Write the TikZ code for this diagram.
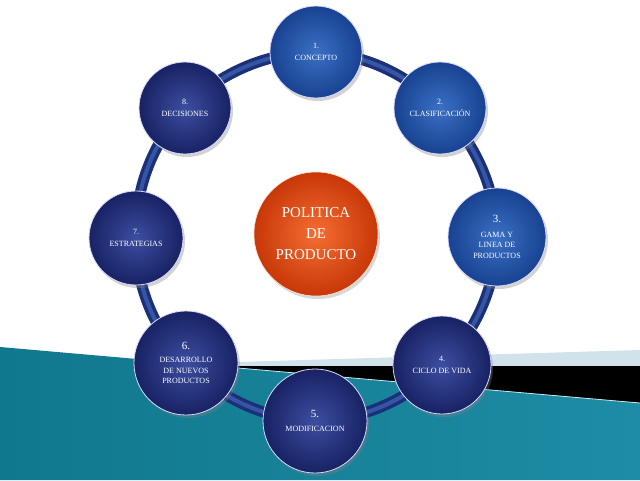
\documentclass[tikz,border=0pt]{standalone}
\usepackage{fontspec}
\setmainfont{Liberation Serif}
\usetikzlibrary{shadows}
\pgfdeclarelayer{bg}
\pgfdeclarelayer{ring}
\pgfsetlayers{bg,ring,main}
\definecolor{royalin}{RGB}{58,112,196}
\definecolor{royalout}{RGB}{24,66,145}
\definecolor{navyin}{RGB}{60,78,160}
\definecolor{navyout}{RGB}{24,34,100}
\definecolor{orangein}{RGB}{245,110,50}
\definecolor{orangeout}{RGB}{200,55,8}
\definecolor{ringdark}{RGB}{28,48,120}
\definecolor{ringlight}{RGB}{52,86,165}
\definecolor{tealdark}{RGB}{16,120,142}
\definecolor{tealmid}{RGB}{60,172,200}
\definecolor{tealright}{RGB}{30,140,165}
\definecolor{paleband}{RGB}{210,226,234}
\begin{document}
\begin{tikzpicture}[x=1pt,y=-1pt,
  bubble/.style={circle, minimum size=#1, inner sep=0pt, draw=white!70!blue!50, line width=0.8pt,
    text=white, align=center, font=\fontsize{8}{10.5}\selectfont,
    drop shadow={shadow xshift=2pt, shadow yshift=-3pt, opacity=0.35}},
  royal/.style={inner color=royalin, outer color=royalout},
  navy/.style={inner color=navyin, outer color=navyout},
  ringarc/.style={line width=11pt, draw=ringdark},
  ringhi/.style={line width=4pt, draw=ringlight},
  hub/.style={circle, minimum size=124pt, inner sep=0pt, inner color=orangein, outer color=orangeout,
    draw=white!80!orange, line width=0.6pt, text=white, align=center,
    font=\fontsize{15}{21}\selectfont,
    drop shadow={shadow xshift=2pt, shadow yshift=-3pt, opacity=0.3}}]
\useasboundingbox (0,0) rectangle (640,480);
\begin{pgfonlayer}{bg}
  \fill[white] (0,0) rectangle (640,480);
  \fill[paleband] (170,364) -- (640,350) -- (640,366) -- (215,366) -- cycle;
  \fill[black] (210,366) -- (640,366) -- (640,403) -- cycle;
  \shade[left color=tealdark, middle color=tealmid, right color=tealright]
    (0,347) -- (640,403) -- (640,480) -- (0,480) -- cycle;
  \draw[white!70!tealmid, line width=0.8pt] (215,366) -- (640,403);
\end{pgfonlayer}

\node[hub] (hub) at (316,234) {POLITICA\\DE\\PRODUCTO};

\node[bubble=92pt, royal] (n1) at (316,52) {1.\\[2pt]CONCEPTO};
\node[bubble=92pt, royal] (n2) at (440,108) {2.\\[2pt]CLASIFICACIÓN};
\node[bubble=98pt, royal] (n3) at (497,237) {{\fontsize{11}{12}\selectfont 3.}\\[4pt]GAMA Y\\LINEA DE\\PRODUCTOS};
\node[bubble=98pt, navy] (n4) at (442,365) {4.\\[2pt]CICLO DE VIDA};
\node[bubble=104pt, navy] (n5) at (315,421) {{\fontsize{11}{12}\selectfont 5.}\\[3pt]MODIFICACION};
\node[bubble=104pt, navy] (n6) at (186,363) {{\fontsize{11}{12}\selectfont 6.}\\[3pt]DESARROLLO\\DE NUEVOS\\PRODUCTOS};
\node[bubble=94pt, navy] (n7) at (136,238) {7.\\[2pt]ESTRATEGIAS};
\node[bubble=92pt, navy] (n8) at (185,108) {8.\\[2pt]DECISIONES};

\begin{pgfonlayer}{ring}
  \foreach \a/\b in {n1/n2,n2/n3,n3/n4,n4/n5,n5/n6,n6/n7,n7/n8,n8/n1}{
    \draw[ringarc] (\a.center) to[bend left=22.5, looseness=0.885] (\b.center);
    \draw[ringhi] (\a.center) to[bend left=22.5, looseness=0.885] (\b.center);
  }
\end{pgfonlayer}
\end{tikzpicture}
\end{document}
